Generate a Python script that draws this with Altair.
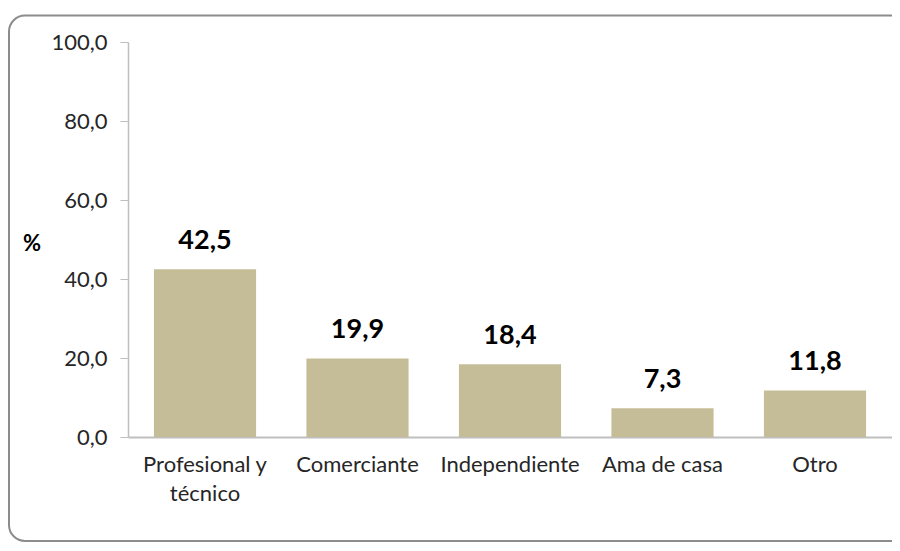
import altair as alt
import pandas as pd

categories = ["Profesional y técnico", "Comerciante", "Independiente", "Ama de casa", "Otro"]
values = [42.5, 19.9, 18.4, 7.3, 11.8]
y_ticks = [0, 20, 40, 60, 80, 100]

df = pd.DataFrame({"cat": categories, "val": values})

FONT = "Lato"
TXT = "#262626"
BAR = "#C4BD97"
AX = "#BFBFBF"

x_enc = alt.X(
    "cat:N",
    sort=categories,
    scale=alt.Scale(paddingInner=0.33, paddingOuter=0.17),
    axis=alt.Axis(
        title=None,
        labelAngle=0,
        ticks=False,
        domainColor=AX,
        domainWidth=2,
        labelFont=FONT,
        labelFontSize=22,
        labelColor=TXT,
        labelPadding=17,
        labelLineHeight=29,
        labelExpr="datum.value == 'Profesional y técnico' ? ['Profesional y', 'técnico'] : datum.value",
    ),
)
y_enc = alt.Y(
    "val:Q",
    scale=alt.Scale(domain=[0, 100], nice=False),
    axis=alt.Axis(
        title=None,
        values=y_ticks,
        grid=False,
        domainColor=AX,
        domainWidth=1.5,
        tickColor=AX,
        tickSize=8,
        labelFont=FONT,
        labelFontSize=22,
        labelColor=TXT,
        labelPadding=13,
        labelExpr="replace(format(datum.value, '.1f'), '.', ',')",
    ),
)

base = alt.Chart(df)
bars = base.mark_bar(color=BAR).encode(x=x_enc, y=y_enc)
labels = base.transform_calculate(
    lab="replace(format(datum.val, '.1f'), '.', ',')"
).mark_text(
    font=FONT, fontSize=27, fontWeight="bold", color="#000000", dy=-28, baseline="middle"
).encode(x=alt.X("cat:N", sort=categories), y="val:Q", text="lab:N")

one = pd.DataFrame({"a": [0]})
frame = alt.Chart(one).mark_rect(
    fill="white", fillOpacity=0, stroke="#8C8C8C", strokeWidth=2, cornerRadius=16
).encode(
    x=alt.value(-119), x2=alt.value(800), y=alt.value(-26.5), y2=alt.value(499)
)
pct = alt.Chart(one).mark_text(
    text="%", font=FONT, fontSize=22, fontWeight="bold", color="#000000"
).encode(x=alt.value(-96), y=alt.value(202))

chart = alt.layer(frame, bars, labels, pct).properties(
    width=764,
    height=395,
    autosize=alt.AutoSizeParams(type="none"),
    padding={"left": 120, "top": 34, "right": 0, "bottom": 106},
).configure_view(stroke=None)

chart.save("out.html", embed_options={"renderer": "svg", "actions": False})
